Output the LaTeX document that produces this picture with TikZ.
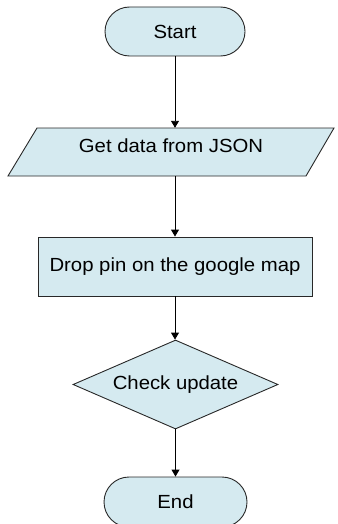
\documentclass[tikz,border=0pt]{standalone}
\usepackage{fontspec}
\setmainfont{Liberation Sans}[FakeStretch=1.07]
\usetikzlibrary{shapes.geometric,shapes.misc,arrows.meta}

\definecolor{boxfill}{RGB}{213,234,240}
\definecolor{boxline}{RGB}{40,40,40}

\tikzset{
  outline/.style={draw=boxline, fill=boxfill, line width=0.9pt},
  box/.style={outline, inner sep=2pt, font=\fontsize{19}{22}\selectfont, text=black},
  terminal/.style={box, rounded rectangle},
  process/.style={box, rectangle},
  decision/.style={box, diamond, aspect=2.3},
  flow/.style={draw=black, line width=0.9pt, -{Triangle[length=7pt,width=8pt]}}
}

\begin{document}
\begin{tikzpicture}[x=1pt, y=-1pt]
  \useasboundingbox (0,0) rectangle (337,524);

  \node[terminal, minimum width=144pt, minimum height=49pt] (start) at (175,31.5) {Start};

  % input/output parallelogram
  \path[outline] (37,128) -- (334,128) -- (306,176) -- (8,176) -- cycle;
  \node[font=\fontsize{19}{22}\selectfont, inner sep=0pt, minimum height=48pt,
        text height=14pt, text depth=12.8pt] (get) at (171,152) {Get data from JSON};

  \node[process, minimum width=274pt, minimum height=59pt] (drop) at (175,266.5) {Drop pin on the google map};
  \node[decision, minimum width=205pt, minimum height=89pt] (check) at (175.5,384.5) {Check update};
  \node[terminal, minimum width=147pt, minimum height=50pt] (end) at (175.5,502) {End};

  \draw[flow] (start.south) -- (start.south |- get.north);
  \draw[flow] (drop.north |- get.south) -- (drop.north);
  \draw[flow] (drop.south) -- (drop.south |- check.north);
  \draw[flow] (check.south) -- (check.south |- end.north);
\end{tikzpicture}
\end{document}
